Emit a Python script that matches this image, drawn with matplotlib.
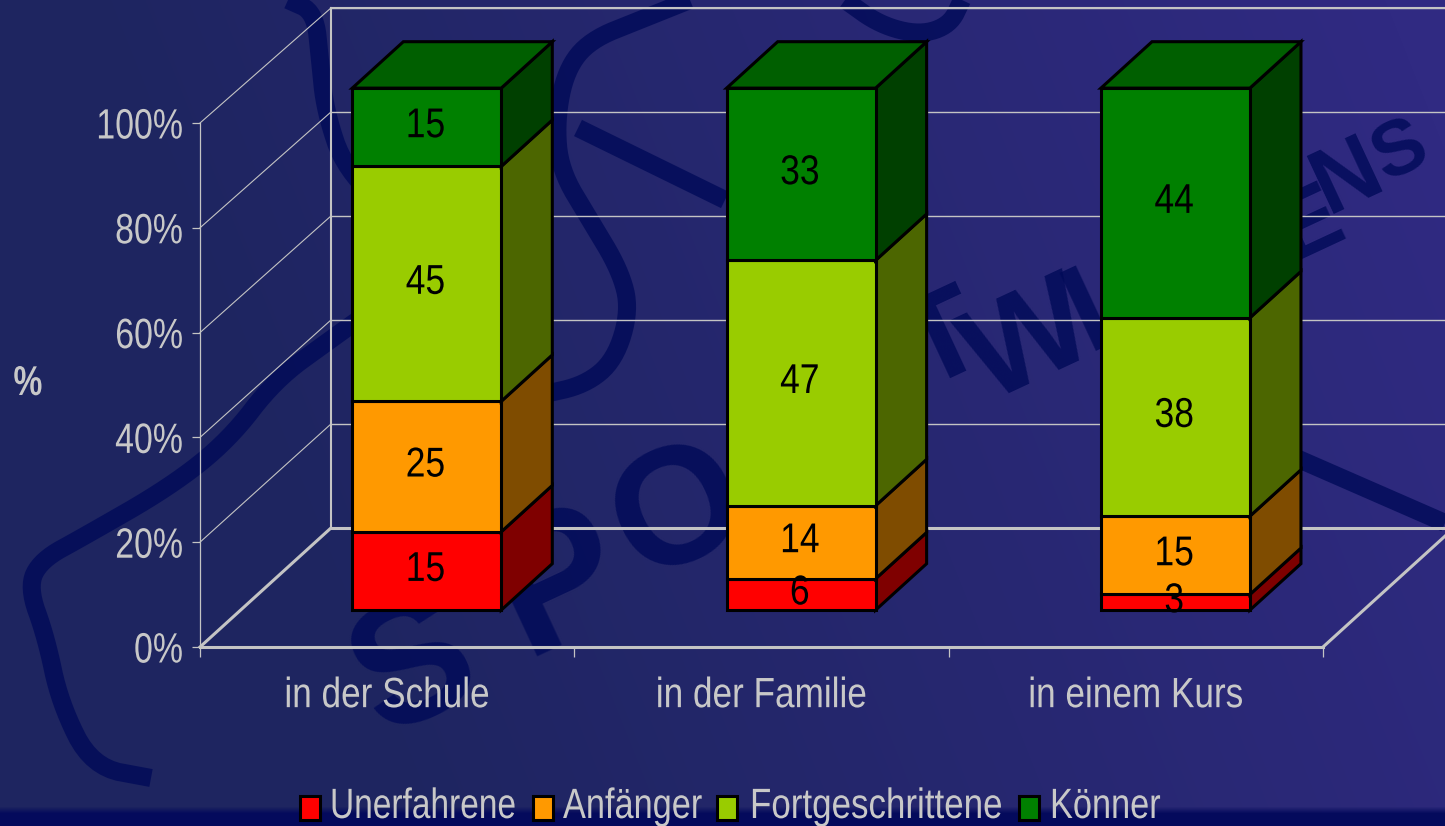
import numpy as np
import matplotlib
matplotlib.use('Agg')
import matplotlib.pyplot as plt
from matplotlib.patches import Rectangle
from matplotlib.patheffects import AbstractPathEffect
from matplotlib.transforms import Affine2D

plt.rcParams['font.family'] = ['Liberation Sans', 'DejaVu Sans']

# data
categories = ['in der Schule', 'in der Familie', 'in einem Kurs']
series_names = ['Unerfahrene', 'Anfänger', 'Fortgeschrittene', 'Könner']
unerfahrene = [15, 6, 3]
anfaenger = [25, 14, 15]
fortgeschrittene = [45, 47, 38]
koenner = [15, 33, 44]
y_ticks = [0, 20, 40, 60, 80, 100]

front_colors = ['#ff0000', '#ff9900', '#99cc00', '#008000']
side_colors = ['#7f0000', '#7f4c00', '#4c6600', '#004000']
top_color = '#005f00'
text_color = '#c8c8c8'
wall_color = '#c4c4c4'
mark_color = '#000a58'


class Narrow(AbstractPathEffect):
    '''squeeze a text sideways, the reference font is a condensed one'''
    def __init__(self, sx, anchor=0.5):
        super().__init__()
        self.sx = sx
        self.anchor = anchor

    def draw_path(self, renderer, gc, tpath, affine, rgbFace=None):
        pivot = tpath.get_extents().x1 * self.anchor
        squeeze = Affine2D().translate(-pivot, 0).scale(self.sx, 1).translate(pivot, 0)
        renderer.draw_path(gc, tpath, squeeze + affine, rgbFace)


def smooth(points, rounds=3):
    # corner cutting, only for the watermark strokes
    p = np.array(points, dtype=float)
    for _ in range(rounds):
        q = 0.75 * p[:-1] + 0.25 * p[1:]
        r = 0.25 * p[:-1] + 0.75 * p[1:]
        mid = np.empty((2 * len(q), 2))
        mid[0::2] = q
        mid[1::2] = r
        p = np.vstack([p[0], mid, p[-1]])
    return p


W, H = 1445, 826
fig = plt.figure(figsize=(W / 100, H / 100), dpi=100)

# background picture, in pixels
bg = fig.add_axes([0, 0, 1, 1])
bg.set_xlim(0, W)
bg.set_ylim(H, 0)
bg.axis('off')
xx, yy = np.meshgrid(np.linspace(0, 1, W), np.linspace(0, 1, H))
mix = np.clip(xx * 1.1 - 0.18 + (0.5 - yy) * 0.25, 0, 1)[..., None]
left_col = np.array([0x1e, 0x25, 0x60]) / 255
right_col = np.array([0x30, 0x2a, 0x82]) / 255
img = left_col * (1 - mix) + right_col * mix
band = np.clip((np.arange(H) - 806) / 7, 0, 1)[:, None, None]
img = img * (1 - band) + np.array([0x04, 0x0a, 0x5c]) / 255 * band
bg.imshow(img, extent=[0, W, H, 0], aspect='auto', zorder=0)

# watermark strokes and letters behind the chart
strokes = [
    [(151, 778), (92, 767), (60, 703), (46, 637), (28, 587), (41, 560), (83, 537), (170, 487),
     (229, 440), (275, 380), (330, 340), (400, 290)],
    [(288, 0), (315, 12), (320, 60), (325, 110), (345, 170), (400, 220)],
    [(690, 0), (640, 20), (590, 40), (566, 70), (556, 120), (560, 170), (590, 220), (620, 270),
     (630, 310), (615, 360), (585, 385), (540, 395)],
    [(845, 0), (880, 25), (920, 35), (950, 25), (962, 0)],
    [(578, 128), (725, 200)],
    [(1255, 440), (1445, 523)],
]
for s in strokes:
    sp = smooth(s)
    bg.plot(sp[:, 0], sp[:, 1], color=mark_color, lw=13, alpha=0.8, solid_capstyle='butt',
            solid_joinstyle='round', zorder=1)

letters = [('S', 415, 670, 125), ('P', 560, 585, 135), ('O', 680, 515, 120), ('R', 815, 440, 100),
           ('T', 945, 345, 90), ('W', 1030, 345, 95), ('I', 1090, 315, 90), ('S', 1200, 260, 75),
           ('E', 1310, 225, 68), ('N', 1348, 178, 66), ('S', 1400, 152, 56)]
for ch, lx, ly, fs in letters:
    bg.text(lx, ly, ch, color=mark_color, alpha=0.8, fontsize=fs, rotation=25, ha='center',
            va='center', fontweight='bold', zorder=1)

# chart axes: front wall plane of the plot box
ax = fig.add_axes([200 / W, 1 - 647 / H, (1323 - 200) / W, (647 - 123) / H])
ax.patch.set_alpha(0)
ax.set_xlim(0, len(categories))
ax.set_ylim(0, 100)

depth_x = 131 / 374.5
depth_y = 119 / 5.24
back_scale = 520 / 524
n_cat = len(categories)

# walls
for t in y_ticks:
    back_y = t * back_scale + depth_y
    ax.plot([0, depth_x], [t, back_y], color=wall_color, lw=0.8, clip_on=False, zorder=2)
    if t > 0:
        ax.plot([depth_x, n_cat + depth_x], [back_y, back_y], color=wall_color, lw=1.0,
                clip_on=False, zorder=2)
back_top = 100 * back_scale + depth_y
ax.plot([depth_x, depth_x], [depth_y, back_top], color=wall_color, lw=1.5, clip_on=False, zorder=2)
ax.plot([depth_x, n_cat + depth_x], [back_top, back_top], color=wall_color, lw=1.5, clip_on=False, zorder=2)
ax.plot([0, depth_x], [0, depth_y], color=wall_color, lw=2.2, clip_on=False, zorder=2)
ax.plot([depth_x, n_cat + depth_x], [depth_y, depth_y], color=wall_color, lw=2.2, clip_on=False, zorder=2)
ax.plot([n_cat, n_cat + depth_x], [0, depth_y], color=wall_color, lw=2.2, clip_on=False, zorder=2)

# stacked bars with a faked depth
near = 0.31
far = near + 0.39
bar_w = 149 / 374.5
y_scale = 522 / 524
base = near * depth_y
dx = (far - near) * depth_x
dy = (far - near) * depth_y
series = [unerfahrene, anfaenger, fortgeschrittene, koenner]
edge = dict(edgecolor='black', linewidth=2.2, joinstyle='miter', clip_on=False, zorder=3)

for i in range(n_cat):
    x0 = i + 0.5 - bar_w / 2 + near * depth_x - 1 / 374.5
    x1 = x0 + bar_w
    bottom = 0
    for k, vals in enumerate(series):
        top = bottom + vals[i]
        y0 = base + bottom * y_scale
        y1 = base + top * y_scale
        ax.fill([x1, x1 + dx, x1 + dx, x1], [y0, y0 + dy, y1 + dy, y1], facecolor=side_colors[k], **edge)
        ax.fill([x0, x1, x1, x0], [y0, y0, y1, y1], facecolor=front_colors[k], **edge)
        ax.text((x0 + x1) / 2 - 0.003, (y0 + y1) / 2 + 0.2, str(vals[i]), color='black', fontsize=30,
                ha='center', va='center', zorder=5, path_effects=[Narrow(0.85)])
        bottom = top
    y_top = base + bottom * y_scale
    ax.fill([x0, x1, x1 + dx, x0 + dx], [y_top, y_top, y_top + dy, y_top + dy], facecolor=top_color, **edge)

# axes, ticks
for name in ['top', 'right']:
    ax.spines[name].set_visible(False)
ax.spines['left'].set_color(wall_color)
ax.spines['left'].set_linewidth(0.9)
ax.spines['bottom'].set_color(wall_color)
ax.spines['bottom'].set_linewidth(2.2)
ax.set_yticks(y_ticks)
ax.set_yticklabels([str(t) + '%' for t in y_ticks])
ax.set_xticks(range(n_cat + 1))
ax.set_xticklabels([])
ax.set_xticks(np.arange(n_cat) + 0.5, minor=True)
ax.set_xticklabels(categories, minor=True)
ax.tick_params(axis='y', length=6, width=0.9, color=wall_color, labelcolor=text_color, labelsize=30.5, pad=6)
ax.tick_params(axis='x', which='major', length=7, width=0.9, color=wall_color)
ax.tick_params(axis='x', which='minor', length=0, labelcolor=text_color, labelsize=30.5, pad=21)
for lab in ax.get_yticklabels():
    lab.set_path_effects([Narrow(0.8, 1)])
for lab in ax.get_xticklabels(minor=True):
    lab.set_path_effects([Narrow(0.83)])
ax.set_ylabel('%', color=text_color, fontsize=30, fontweight='bold', rotation=0, va='center', labelpad=0,
              path_effects=[Narrow(0.78)])
ax.yaxis.set_label_coords(-172 / 1123, (647 - 384) / 524)

# legend, laid out by hand because the squeezed labels are narrower than the text boxes
swatch_left = [299, 532, 716, 1018]
label_left = [330, 563, 750, 1050]
label_squeeze = [0.79, 0.81, 0.825, 0.81]
for name, col, sx, tx, sq in zip(series_names, front_colors, swatch_left, label_left, label_squeeze):
    bg.add_patch(Rectangle((sx + 1, 796), 20, 24, facecolor=col, edgecolor='black', linewidth=2.2, zorder=3))
    bg.text(tx, 818, name, color=text_color, fontsize=30.5, ha='left', va='baseline', zorder=3,
            path_effects=[Narrow(sq, 0)])

fig.savefig('out.png', dpi=100)
